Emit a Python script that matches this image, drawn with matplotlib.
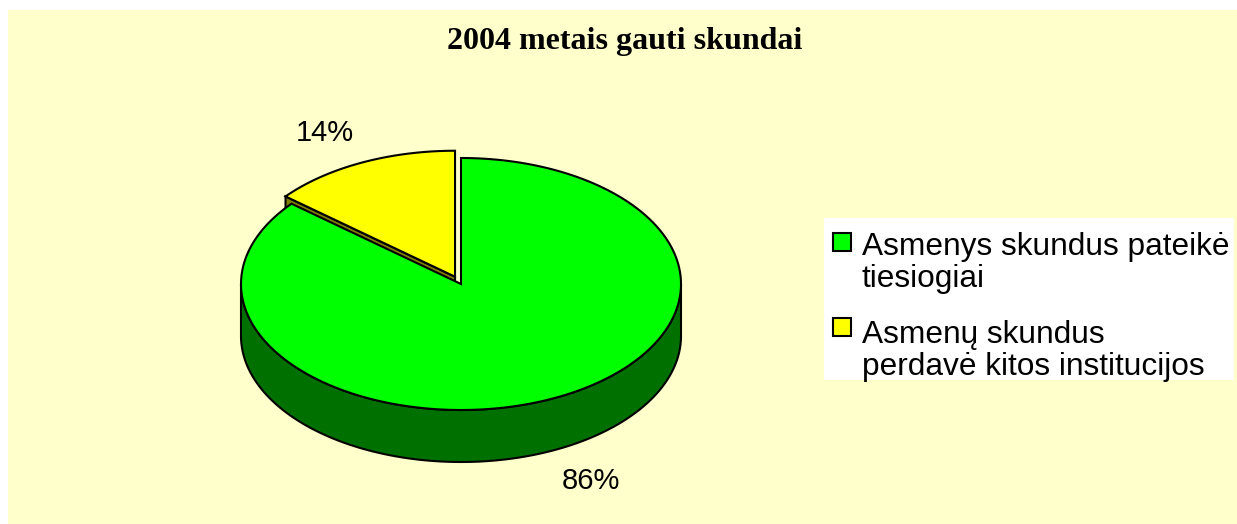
import numpy as np
from matplotlib import pyplot as plt
from matplotlib.patches import Polygon, Rectangle

title = "2004 metais gauti skundai"
labels = ["Asmenys skundus pateikė\ntiesiogiai", "Asmenų skundus\nperdavė kitos institucijos"]
values = [86, 14]
top_colors = ["#00FF00", "#FFFF00"]
side_colors = ["#007000", "#808000"]
explode = [0, 14]

# pie geometry in pixels
cx, cy = 461, 284
rx, ry = 220, 126
depth = 52

fig = plt.figure(figsize=(12.37, 5.24), dpi=100)
fig.patch.set_facecolor("white")
ax = fig.add_axes([0, 0, 1, 1])
ax.set_xlim(0, 1237)
ax.set_ylim(524, 0)
ax.axis("off")
ax.add_patch(Rectangle((8, 10), 1229, 514, facecolor="#FFFFCC", edgecolor="none", zorder=0))


def rim(t0, t1, x0, y0, dz=0, n=200):
    th = np.radians(np.linspace(t0, t1, n))
    return np.column_stack([x0 + rx * np.cos(th), y0 - ry * np.sin(th) + dz])


# slices counter-clockwise from 12 o'clock, yellow first
order = [1, 0]
angles = []
a = 90.0
for i in order:
    span = 360.0 * values[i] / sum(values)
    angles.append((i, a, a + span))
    a += span

sides = []
tops = []
for i, a0, a1 in angles:
    mid = np.radians((a0 + a1) / 2)
    x0 = cx + explode[i] * np.cos(mid)
    y0 = cy - explode[i] * np.sin(mid) * ry / rx
    # front wall: part of arc in 180..360
    for k in range(-1, 2):
        lo = max(a0, 180 + 360 * k)
        hi = min(a1, 360 + 360 * k)
        if hi > lo:
            pts = np.vstack([rim(lo, hi, x0, y0), rim(hi, lo, x0, y0, depth)])
            sides.append(Polygon(pts, closed=True, facecolor=side_colors[i], edgecolor="black", lw=1.5, zorder=2))
    # radial faces
    for edge, vis in ((a0, np.cos(np.radians(a0)) > 1e-6), (a1, np.cos(np.radians(a1)) < -1e-6)):
        if vis:
            p = rim(edge, edge, x0, y0, n=1)[0]
            pts = [(x0, y0), tuple(p), (p[0], p[1] + depth), (x0, y0 + depth)]
            sides.append(Polygon(pts, closed=True, facecolor=side_colors[i], edgecolor="black", lw=1.5, zorder=2))
    pts = np.vstack([[x0, y0], rim(a0, a1, x0, y0)])
    tops.append(Polygon(pts, closed=True, facecolor=top_colors[i], edgecolor="black", lw=1.5, zorder=3))

for p in sides + tops:
    ax.add_patch(p)

# percent labels
label_pos = {1: (325, 133), 0: (591, 481)}
for i in order:
    pct = "%d%%" % round(100 * values[i] / sum(values))
    ax.text(*label_pos[i], pct, ha="center", va="center", fontsize=21, family="Liberation Sans")

ax.text(625, 41, title, ha="center", va="center", fontsize=23, fontweight="bold", family="Liberation Serif")

# legend
ax.add_patch(Rectangle((824, 218), 410, 162, facecolor="white", edgecolor="none", zorder=1))
leg_y = [233, 318]
for i in range(2):
    ax.add_patch(Rectangle((833, leg_y[i]), 18, 18, facecolor=top_colors[i], edgecolor="black", lw=1.5, zorder=2))
    ax.text(862, leg_y[i] - 1 + 3 * i, labels[i], ha="left", va="top", fontsize=22.8, family="Liberation Sans",
            linespacing=1.1, zorder=3)

plt.savefig("out.png", dpi=100)
